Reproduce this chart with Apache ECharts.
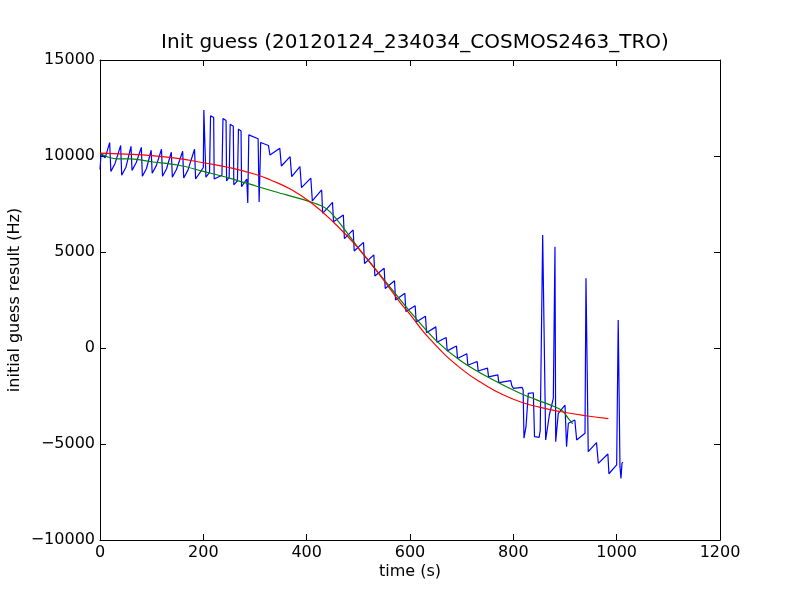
<!DOCTYPE html>
<html>
<head>
<meta charset="utf-8">
<script src="https://cdn.jsdelivr.net/npm/echarts@6/dist/echarts.min.js"></script>
<style>html,body{margin:0;padding:0;background:#fff}#c{width:800px;height:600px}</style>
</head>
<body>
<div id="c"></div>
<script>
var titleText = 'Init guess (20120124_234034_COSMOS2463_TRO)';
var xName = 'time (s)';
var yName = 'initial guess result (Hz)';
var xTicks = [0, 200, 400, 600, 800, 1000, 1200];
var yTicks = [-10000, -5000, 0, 5000, 10000, 15000];

var blueT = [0,2,10,18.7,21,29,40,42,50,60,62,70,80,82,90,99,101,109,119,121,129,138,140,148,160,162,170,183,185,195,200,201,204,205,212,214,220,221,236,238,244,245,250,252,258,259,266,268,273,274,284,286,288,306,308,311,326,329,348,351,368,371,387,390,408,411,429,431,450,452,471,473,490,492,510,512,530,532,550,552,570,572,590,592,610,612,630,632,650,652,670,672,690,692,710,712,730,732,750,752,770,772,795,797,800,817,819,820.6,824.5,827,829,838.7,841,850,852,856.8,860,862.6,869.7,877.4,880.6,882,887,900,903,906.5,919,922.6,938.7,940.6,943,945,961,964.5,983,985,1000,1003,1006.4,1008.3,1010.3,1012];
var blueV = [9300,10100,9900,10700,9200,9600,10550,9000,9400,10500,9250,9650,10450,8950,9350,10300,9100,9500,10350,8950,9350,10200,8900,9300,10250,8850,9250,10350,8800,9200,9400,12400,12300,8900,9150,12100,12000,8800,9000,11950,11850,8700,8900,11650,11550,8500,8700,11400,11300,8400,8800,7550,11100,10900,7600,10700,10550,10050,10400,9480,9965,8924,9445,8350,8850,7657,8230,7015,7587,6580,6928,5700,6150,5050,5500,4400,4850,3750,4150,3100,3500,2500,2850,1900,2200,1350,1650,800,1100,300,550,-150,100,-550,-300,-900,-700,-1200,-1050,-1500,-1400,-1800,-1700,-1960,-2100,-2050,-2190,-4700,-4100,-4050,-2360,-2330,-4620,-4650,-4300,5886,5886,-4790,-3490,-2620,5278,-4877,-3400,-2970,-5138,-3923,-3750,-4790,-4440,3629,3716,-5400,-4930,-6006,-5520,-6550,-6090,1458,-6180,-6790,-6000,-5950];

var greenT = [0,15,35,60,100,151,200,250,300,339,406,432,445,470,503,550,600,650,700,755,813,845,893,906,915];
var greenV = [10140,9950,9850,9850,9700,9530,9200,8850,8450,8140,7620,7360,7100,6300,5100,3550,1900,400,-700,-1580,-2360,-2700,-3230,-3650,-3950];

var redT = [0,50,100,150,200,250,300,330,370,410,450,500,550,580,600,640,700,750,774,813,850,893,940,984];
var redV = [10150,10100,10020,9880,9650,9400,9050,8750,8250,7540,6600,5200,3500,2400,1750,420,-1100,-2000,-2360,-2800,-3080,-3320,-3530,-3680];

function pairs(t, v) { var o = []; for (var i = 0; i < t.length; i++) o.push([t[i], v[i]]); return o; }
function fmt(v) { return String(v).replace('-', '\u2212'); }

var FONT = 'DejaVu Sans';
var chart = echarts.init(document.getElementById('c'), null, {renderer: 'canvas'});
function axisBase(pos, show) {
  return {
    type: 'value', position: pos,
    axisLine: {show: true, onZero: false, lineStyle: {color: '#000', width: 1}},
    axisTick: {show: true, inside: true, length: 6, lineStyle: {color: '#000', width: 1}},
    axisLabel: {show: show, color: '#000', fontFamily: FONT, fontSize: 16, formatter: fmt},
    splitLine: {show: false}
  };
}
var x1 = axisBase('bottom', true); x1.min = xTicks[0]; x1.max = xTicks[xTicks.length-1]; x1.interval = 200;
x1.name = xName; x1.nameLocation = 'middle'; x1.nameGap = 24; x1.nameMoveOverlap = false;
x1.nameTextStyle = {color: '#000', fontFamily: FONT, fontSize: 16};
x1.axisLabel.margin = 5;
var x2 = axisBase('top', false); x2.min = xTicks[0]; x2.max = xTicks[xTicks.length-1]; x2.interval = 200;
var y1 = axisBase('left', true); y1.min = yTicks[0]; y1.max = yTicks[yTicks.length-1]; y1.interval = 5000;
y1.name = yName; y1.nameLocation = 'middle'; y1.nameGap = 77; y1.nameRotate = 90; y1.nameMoveOverlap = false;
y1.nameTextStyle = {color: '#000', fontFamily: FONT, fontSize: 16};
y1.axisLabel.margin = 5;
var y2 = axisBase('right', false); y2.min = yTicks[0]; y2.max = yTicks[yTicks.length-1]; y2.interval = 5000;

chart.setOption({
  animation: false,
  backgroundColor: '#fff',
  title: {text: titleText, left: 410, top: 28, textAlign: 'center',
    textStyle: {color: '#000', fontFamily: FONT, fontSize: 20, fontWeight: 'normal'}},
  grid: {left: 100, right: 80, top: 60, bottom: 60, containLabel: false, outerBoundsMode: 'none'},
  xAxis: [x1, x2],
  yAxis: [y1, y2],
  series: [
    {type: 'line', name: 'blue', data: pairs(blueT, blueV), showSymbol: false, symbol: 'none',
     lineStyle: {color: '#0000ff', width: 1.2}, itemStyle: {color: '#0000ff'}, z: 1},
    {type: 'line', name: 'green', data: pairs(greenT, greenV), showSymbol: false, symbol: 'none', smooth: 0.3,
     lineStyle: {color: '#008000', width: 1.2}, itemStyle: {color: '#008000'}, z: 2},
    {type: 'line', name: 'red', data: pairs(redT, redV), showSymbol: false, symbol: 'none', smooth: true,
     lineStyle: {color: '#ff0000', width: 1.2}, itemStyle: {color: '#ff0000'}, z: 3}
  ]
});
</script>
</body>
</html>
